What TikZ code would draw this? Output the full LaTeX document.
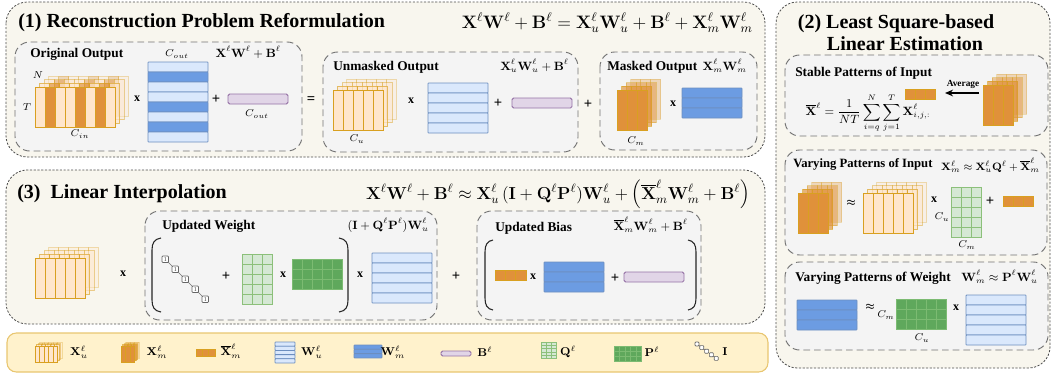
\RequirePackage{fix-cm}
\documentclass[tikz,border=0pt]{standalone}
\usepackage{amsmath}
\usepackage[no-math]{fontspec}
\setmainfont{Liberation Serif}
\usetikzlibrary{arrows.meta}

\definecolor{cream}{HTML}{F8F6EE}
\definecolor{subg}{HTML}{F4F4F4}
\definecolor{orL}{HTML}{FFE6CC}
\definecolor{orD}{HTML}{E0913A}
\definecolor{orB}{HTML}{D9A020}
\definecolor{blL}{HTML}{DAE8FC}
\definecolor{blD}{HTML}{6C9CE2}
\definecolor{blB}{HTML}{6C8EBF}
\definecolor{puF}{HTML}{E1D5E7}
\definecolor{puB}{HTML}{9673A6}
\definecolor{grL}{HTML}{D5E8D4}
\definecolor{grB}{HTML}{8CC07A}
\definecolor{grD}{HTML}{5FA85C}
\definecolor{grDl}{HTML}{7CBB72}
\definecolor{legF}{HTML}{FFF2CC}
\definecolor{legB}{HTML}{E8C670}

% stack of channel slices: x, y (front top-left), 0/1 list (light/dark), column width, height, layer offset, name
\newcommand\colstack[7]{%
  \foreach \k/\op in {3/0.3,2/0.45,1/0.65,0/1}{%
    \foreach \c [count=\i from 0] in {#3}{%
      \ifnum\c=1 \def\fc{orD}\else\def\fc{orL}\fi
      \draw[draw=orB, fill=\fc, fill opacity=\op, draw opacity=\op, line width=0.6]
        ({#1+#6*\k+#4*\i},{#2-0.82*#6*\k}) rectangle ++(#4,#5);
    }%
  }%
  \coordinate (#7) at (#1,#2);
}
% weight matrix with row stripes: x, y, 0/1 list, width, row height, name
\newcommand\rowmat[6]{%
  \foreach \r [count=\i from 0] in {#3}{%
    \ifnum\r=1 \def\fc{blD}\else\def\fc{blL}\fi
    \draw[draw=blB, fill=\fc, line width=0.6, rounded corners=0.5]
      ({#1},{#2+#5*\i}) rectangle ++(#4,#5);
  }%
  \coordinate (#6) at (#1,#2);
}
% cell grid: x, y, cols, rows, cell w, cell h, style, name
\newcommand\gridmat[8]{%
  \foreach \i in {1,...,#3}{\foreach \j in {1,...,#4}{%
    \draw[#7] ({#1+#5*(\i-1)},{#2+#6*(\j-1)}) rectangle ++(#5,#6);}}%
  \coordinate (#8) at (#1,#2);
}
% averaged input row: x, y, cell width, height, name
\newcommand\avgrow[5]{%
  \foreach \i in {0,1,2}{%
    \draw[draw=orB, fill=orD, line width=0.5] ({#1+#3*\i},#2) rectangle ++(#3,#4);}%
  \coordinate (#5) at (#1,#2);
}
% identity chain: x, y, cell size, step x, step y, show ones (1/0), name
\newcommand\idmat[7]{%
  \draw[black!55, line width=0.5] ({#1+#3/2},{#2+#3/2}) -- ++({4*#4},{4*#5});
  \foreach \i in {0,...,4}{%
    \draw[black!60, fill=white, line width=0.5, rounded corners=0.6]
      ({#1+#4*\i},{#2+#5*\i}) rectangle ++(#3,#3);
    \ifnum#6=1
      \node[font=\fontsize{4.5}{5}\selectfont, inner sep=0, text=black!75] (#7-\i)
        at ({#1+#4*\i+#3/2},{#2+#5*\i+#3/2}) {1};
    \fi
  }%
  \coordinate (#7) at (#1,#2);
}
% large parentheses: x of middle, x of tips, y top, y bottom
\newcommand\bigparen[4]{%
  \draw[black!85, line width=0.8] (#2,#3) .. controls ({#1+0.25*(#2-#1)},{#3+1})
    and (#1,{#3+5}) .. (#1,{#3+12}) -- (#1,{#4-12}) .. controls (#1,{#4-5})
    and ({#1+0.25*(#2-#1)},{#4-1}) .. (#2,#4);
}

\begin{document}
\begin{tikzpicture}[x=0.75pt,y=-0.75pt,
  panel/.style={draw=black!70, fill=cream, line width=0.6, dash pattern=on 1.6pt off 1.2pt, rounded corners=16pt},
  subbox/.style={draw=black!55, fill=subg, line width=0.7, dash pattern=on 5pt off 3pt, rounded corners=11pt},
  ttl/.style={font=\fontsize{15}{18}\selectfont\bfseries, inner sep=0},
  subt/.style={font=\fontsize{10}{12}\selectfont\bfseries, inner sep=0},
  eqL/.style={font=\fontsize{13.5}{16}\selectfont, inner sep=0},
  eqS/.style={font=\fontsize{9}{11}\selectfont, inner sep=0},
  dim/.style={font=\fontsize{7.5}{9}\selectfont, inner sep=0},
  opx/.style={font=\fontsize{9}{10}\selectfont\bfseries, inner sep=0},
  opa/.style={font=\fontsize{7}{8}\selectfont, inner sep=0},
  opp/.style={font=\fontsize{11}{12}\selectfont\bfseries, inner sep=0},
  leg/.style={font=\fontsize{8.5}{10}\selectfont, inner sep=0},
  biasst/.style={draw=puB, fill=puF, line width=0.7, rounded corners=1.2},
  qcell/.style={fill=grL, draw=grB, line width=0.6},
  pcell/.style={fill=grD, draw=grDl, line width=0.6}]
\useasboundingbox (0,0) rectangle (1055,375);

% ---------- panel frames ----------
\draw[panel] (6,2) rectangle (765,157);
\draw[panel] (6,170) rectangle (765,324);
\draw[panel] (776,2) rectangle (1050,368);
\draw[draw=legB, fill=legF, line width=0.8, rounded corners=7pt] (7,333) rectangle (768,372);

% ---------- (1) Reconstruction Problem Reformulation ----------
\node[ttl, anchor=base west] (t1) at (18,27) {(1) Reconstruction Problem Reformulation};
\node[eqL, anchor=base east] (e1) at (753,28)
  {$\mathbf{X}^\ell\mathbf{W}^\ell+\mathbf{B}^\ell=\mathbf{X}^\ell_u\mathbf{W}^\ell_u+\mathbf{B}^\ell+\mathbf{X}^\ell_m\mathbf{W}^\ell_m$};

\draw[subbox] (15,42) rectangle (302,151);
\node[subt, anchor=base west] (s1) at (30,57) {Original Output};
\node[eqS, anchor=base east] (s1e) at (281,57) {$\mathbf{X}^\ell\mathbf{W}^\ell+\mathbf{B}^\ell$};
\colstack{35}{87}{0,1,0,0,1,0,1,0}{10}{40}{4.5}{xo}
\node[dim] (nN) at (38,75) {$N$};
\node[dim] (nT) at (27,107) {$T$};
\node[dim] (cin) at (80,134) {$C_{in}$};
\node[opx] (m1) at (137,99) {x};
\node[dim] (cout1) at (177,54) {$C_{out}$};
\rowmat{148}{62}{0,1,0,0,1,0,1,0}{60}{10}{wo}
\node[opp] (p1) at (216,99) {+};
\draw[biasst] (228,94) rectangle (288,104);
\coordinate (bo) at (228,94);
\node[dim] (cout2) at (257,114) {$C_{out}$};

\node[opp] (eq1) at (311,100) {=};

\draw[subbox] (323,52) rectangle (578,152);
\node[subt, anchor=base west] (s2) at (333,70) {Unmasked Output};
\node[eqS, anchor=base east] (s2e) at (569,70) {$\mathbf{X}^\ell_u\mathbf{W}^\ell_u+\mathbf{B}^\ell$};
\colstack{333}{90}{0,0,0,0,0}{10}{40}{4.5}{xu}
\node[dim] (cu1) at (357,139) {$C_u$};
\node[opx] (m2) at (411,101) {x};
\rowmat{428}{83}{0,0,0,0,0}{60}{10}{wu1}
\node[opp] (p2) at (498,103) {+};
\draw[biasst] (512,98) rectangle (572,108);
\coordinate (bu) at (512,98);

\node[opp] (p3) at (588,104) {+};

\draw[subbox] (600,52) rectangle (757,150);
\node[subt, anchor=base west] (s3) at (607,70) {Masked Output};
\node[eqS, anchor=base east] (s3e) at (747,70) {$\mathbf{X}^\ell_m\mathbf{W}^\ell_m$};
\colstack{617}{90}{1,1,1}{10}{40}{4.5}{xm}
\node[dim] (cm1) at (636,141) {$C_m$};
\node[opx] (m3) at (673,104) {x};
\rowmat{682}{88}{1,1,1}{60}{10}{wm1}

% ---------- (2) Least Square-based Linear Estimation ----------
\node[ttl, anchor=base] (t2a) at (896,28) {(2) Least Square-based};
\node[ttl, anchor=base] (t2b) at (905,50) {Linear Estimation};

\draw[subbox] (785,55) rectangle (1048,136);
\node[subt, anchor=base west] (s4) at (795,76) {Stable Patterns of Input};
\avgrow{905}{89}{10}{10}{xb1}
\colstack{983}{85}{1,1,1}{10}{40}{4.5}{xm2}
\coordinate (avgS) at (979,93);
\coordinate (avgE) at (945,93);
\draw[-{Stealth[length=6pt,width=5pt]}, line width=1.1] (avgS) -- (avgE);
\node[font=\fontsize{7}{8}\selectfont\bfseries, inner sep=0] (avg) at (963,84) {Average};
\node[font=\fontsize{9}{11}\selectfont, inner sep=0] (se) at (868,113)
  {$\displaystyle\overline{\mathbf{X}}^\ell=\frac{1}{NT}\sum_{i=q}^{N}\sum_{j=1}^{T}\mathbf{X}^\ell_{i,j,:}$};

\draw[subbox] (785,150) rectangle (1047,255);
\node[subt, anchor=base west, font=\fontsize{9.5}{12}\selectfont\bfseries] (s5) at (793,167) {Varying Patterns of Input};
\node[eqS, anchor=base east, font=\fontsize{8}{10}\selectfont] (s5e) at (1040,170) {$\mathbf{X}^\ell_m\approx\mathbf{X}^\ell_u\mathbf{Q}^\ell+\overline{\mathbf{X}}^\ell_m$};
\colstack{798}{193}{1,1,1}{10}{40}{4.5}{xm3}
\node[opa] (a1) at (851,203) {$\boldsymbol{\approx}$};
\colstack{863}{193}{0,0,0,0,0}{10}{40}{4.5}{xu2}
\node[opx] (m4) at (934,200) {x};
\node[dim] (cu2) at (942,217) {$C_u$};
\gridmat{951}{187}{3}{5}{10}{10}{qcell}{q1}
\node[dim] (cm2) at (967,245) {$C_m$};
\node[opp] (p4) at (990,201) {+};
\avgrow{1003}{196}{10}{10}{xb2}

\draw[subbox] (785,262) rectangle (1048,350);
\node[subt, anchor=base west] (s6) at (795,281) {Varying Patterns of Weight};
\node[eqS, anchor=base east] (s6e) at (1038,281) {$\mathbf{W}^\ell_m\approx\mathbf{P}^\ell\mathbf{W}^\ell_u$};
\rowmat{797}{300}{1,1,1}{60}{10}{wm2}
\node[opa] (a2) at (870,307) {$\boldsymbol{\approx}$};
\node[dim] (cm3) at (886,315) {$C_m$};
\gridmat{896}{299}{5}{3}{10}{10}{pcell}{p1m}
\node[dim] (cu3) at (922,338) {$C_u$};
\node[opx] (m5) at (956,308) {x};
\rowmat{966}{295}{0,0,0,0,0}{60}{10}{wu2}

% ---------- (3) Linear Interpolation ----------
\node[ttl, anchor=base west] (t3) at (17,198) {(3)\ \ Linear Interpolation};
\node[eqL, anchor=base east, font=\fontsize{13}{16}\selectfont] (e3) at (750,199)
  {$\mathbf{X}^\ell\mathbf{W}^\ell+\mathbf{B}^\ell\approx\mathbf{X}^\ell_u\,(\mathbf{I}+\mathbf{Q}^\ell\mathbf{P}^\ell)\mathbf{W}^\ell_u+\left(\overline{\mathbf{X}}^\ell_m\mathbf{W}^\ell_m+\mathbf{B}^\ell\right)$};

\colstack{35}{258}{0,0,0,0,0}{10}{40}{4.5}{xu3}
\node[opx] (m6) at (123,274) {x};

\draw[subbox] (145,211) rectangle (437,320);
\node[subt, anchor=base west] (s7) at (162,229) {Updated Weight};
\node[eqS, anchor=base east] (s7e) at (429,229) {$(\mathbf{I}+\mathbf{Q}^\ell\mathbf{P}^\ell)\mathbf{W}^\ell_u$};
\bigparen{152}{161}{238}{312}
\bigparen{348}{339}{238}{312}
\idmat{162}{256}{6.5}{10}{10}{1}{id1}
\node[opp] (p5) at (226,276) {+};
\gridmat{242}{254}{3}{5}{10}{10}{qcell}{q2}
\node[opx] (m7) at (283,275) {x};
\gridmat{292}{259}{5}{3}{10}{10}{pcell}{p2m}
\node[opx] (m8) at (360,275) {x};
\rowmat{372}{253}{0,0,0,0,0}{60}{10}{wu3}

\node[opp] (p6) at (456,276) {+};

\draw[subbox] (477,211) rectangle (701,320);
\node[subt, anchor=base west] (s8) at (495,231) {Updated Bias};
\node[eqS, anchor=base east] (s8e) at (688,230) {$\overline{\mathbf{X}}^\ell_m\mathbf{W}^\ell_m+\mathbf{B}^\ell$};
\bigparen{485}{493}{240}{310}
\bigparen{696}{688}{240}{310}
\avgrow{495}{270}{10.3}{10}{xb3}
\node[opx] (m9) at (533,277) {x};
\rowmat{544}{262}{1,1,1}{60}{10}{wm3}
\node[opp] (p7) at (615,278) {+};
\draw[biasst] (624,272) rectangle (684,282);
\coordinate (bb) at (624,272);

% ---------- legend ----------
\colstack{35}{346}{0,0,0,0,0}{4.5}{16}{1.5}{lg1}
\node[leg] (lt1) at (79,352) {$\mathbf{X}^\ell_u$};
\colstack{121}{346}{1,1,1}{4.5}{16}{1.5}{lg2}
\node[leg] (lt2) at (157,352) {$\mathbf{X}^\ell_m$};
\avgrow{196}{349}{6.3}{7}{lg3}
\node[leg] (lt3) at (231,351) {$\overline{\mathbf{X}}^\ell_m$};
\rowmat{275}{342}{0,0,0,0,0}{20}{4.2}{lg4}
\node[leg] (lt4) at (312,352) {$\mathbf{W}^\ell_u$};
\rowmat{354}{345}{1,1,1}{28}{4.3}{lg5}
\node[leg] (lt5) at (393,352) {$\mathbf{W}^\ell_m$};
\draw[biasst] (441,351) rectangle (471,356);
\coordinate (lg6) at (441,351);
\node[leg] (lt6) at (485,352) {$\mathbf{B}^\ell$};
\gridmat{541}{342}{3}{5}{5}{3.3}{qcell}{lg7}
\node[leg] (lt7) at (568,352) {$\mathbf{Q}^\ell$};
\gridmat{614}{346}{5}{3}{5.5}{5}{pcell}{lg8}
\node[leg] (lt8) at (652,352) {$\mathbf{P}^\ell$};
\idmat{695}{342}{4}{4.8}{3.6}{0}{lg9}
\node[leg] (lt9) at (725,352) {$\mathbf{I}$};
\end{tikzpicture}
\end{document}
